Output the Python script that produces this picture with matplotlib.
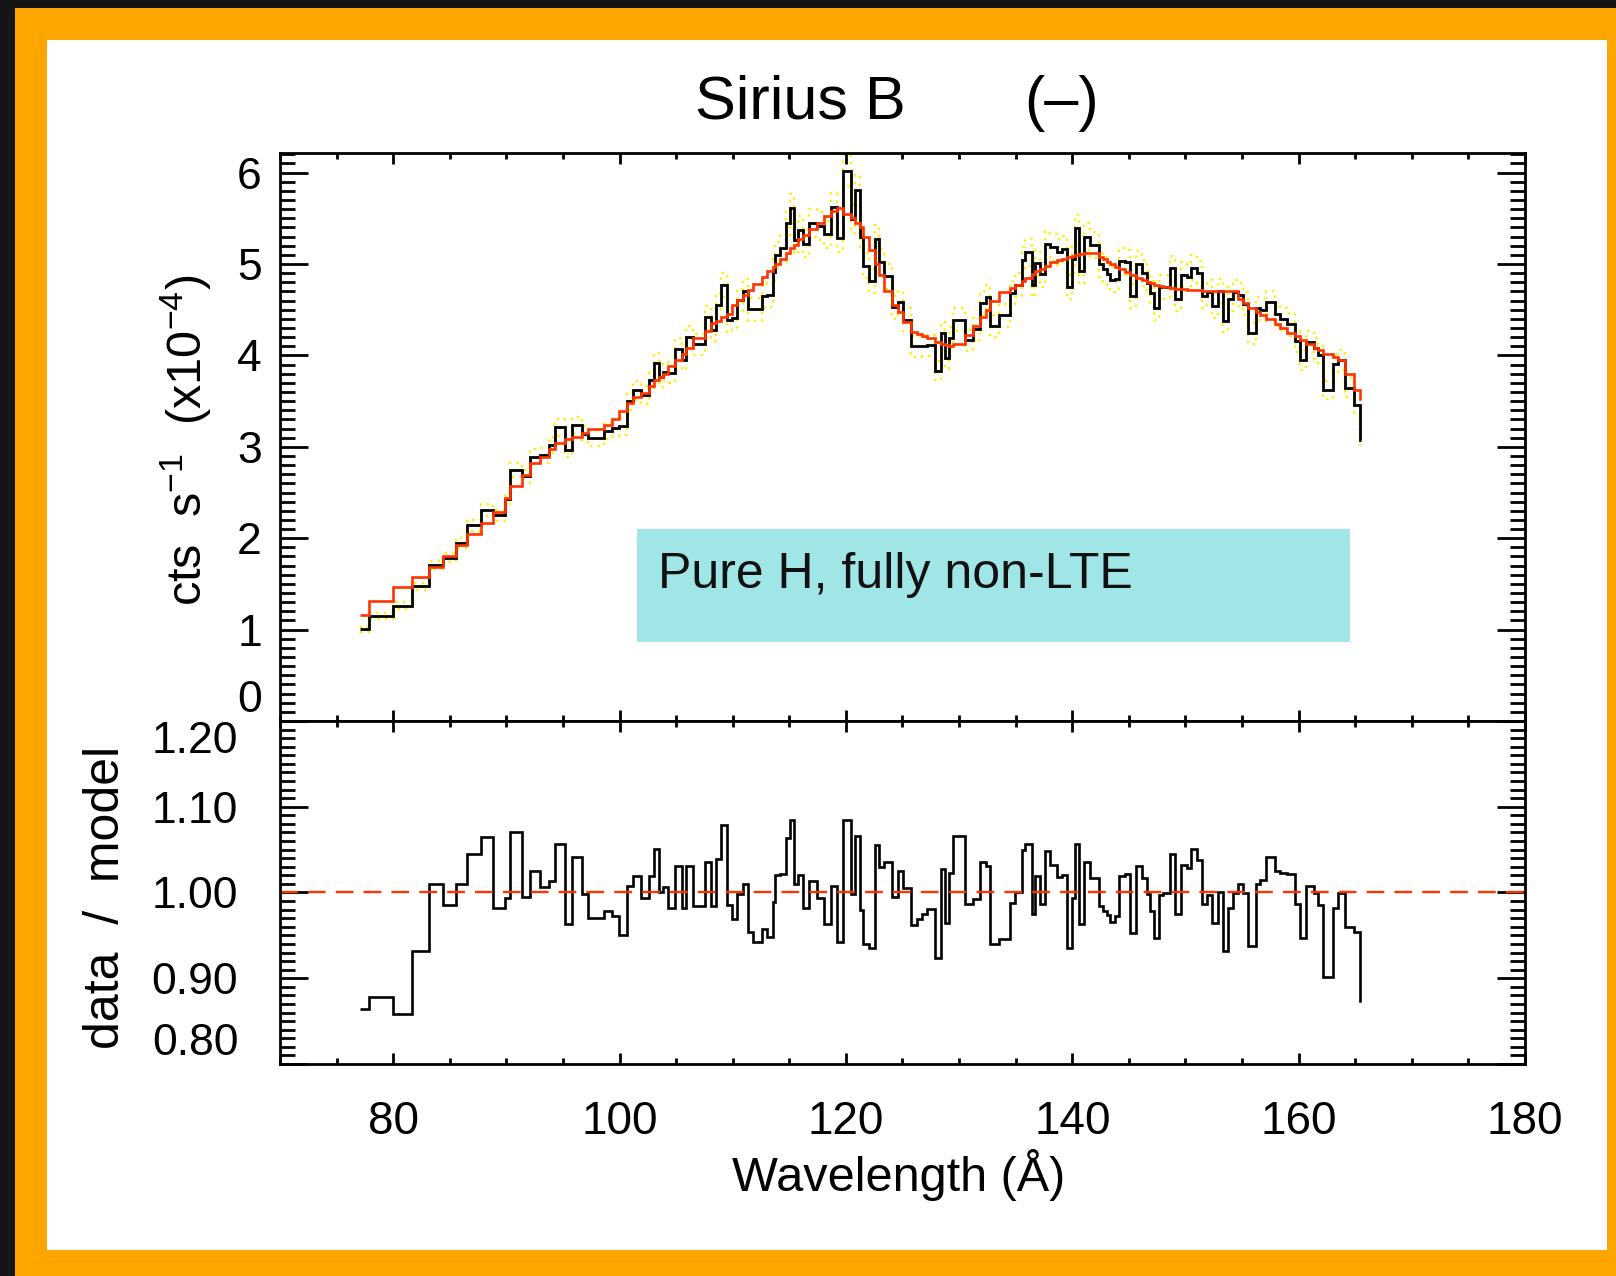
import matplotlib
matplotlib.use('Agg')
import matplotlib.pyplot as plt
from matplotlib.patches import Rectangle
from matplotlib.ticker import MultipleLocator, FixedLocator, FormatStrFormatter
import numpy as np

plt.rcParams['font.family'] = ['Liberation Sans', 'DejaVu Sans']
plt.rcParams['mathtext.fontset'] = 'custom'
plt.rcParams['mathtext.rm'] = 'Liberation Sans'
plt.rcParams['mathtext.it'] = 'Liberation Sans:italic'
plt.rcParams['mathtext.bf'] = 'Liberation Sans:bold'

# ---------------- data ----------------
# bin edges in Angstrom
edges = [77.07, 77.89, 79.96, 81.63, 83.20, 84.37, 85.55, 86.55, 87.73, 88.79,
         89.88, 90.32, 91.35, 92.09, 92.97, 93.80, 94.30, 95.18, 95.77, 96.66,
         97.24, 98.63, 99.31, 99.98, 100.63, 101.22, 101.87, 102.64, 103.05, 103.45,
         103.81, 104.31, 104.90, 105.50, 105.90, 106.46, 107.55, 108.05, 108.52, 108.93,
         109.46, 109.91, 110.41, 110.88, 111.38, 111.82, 112.56, 113.06, 113.53, 113.73,
         114.18, 114.71, 115.06, 115.41, 115.80, 116.24, 116.77, 117.42, 118.06, 118.65,
         119.18, 119.71, 120.42, 120.80, 121.25, 121.54, 122.07, 122.57, 122.95, 123.37,
         124.04, 124.63, 125.02, 125.72, 126.25, 126.70, 127.20, 127.87, 128.37, 128.76,
         129.14, 129.49, 130.52, 131.26, 131.85, 132.38, 132.73, 133.56, 134.50, 134.94,
         135.53, 135.83, 136.41, 136.71, 137.15, 137.59, 138.03, 138.62, 139.07, 139.51,
         139.95, 140.24, 140.63, 141.04, 141.57, 142.39, 142.75, 143.10, 143.34, 143.78,
         144.16, 144.66, 145.10, 145.63, 146.13, 146.58, 146.87, 147.22, 147.70, 148.05,
         148.64, 149.08, 149.58, 150.11, 150.46, 150.99, 151.44, 151.88, 152.32, 152.91,
         153.29, 153.79, 154.18, 154.68, 155.12, 155.56, 156.24, 156.59, 157.12, 157.92,
         158.36, 158.95, 159.68, 160.13, 160.66, 161.36, 161.75, 162.19, 163.07, 163.51,
         164.10, 164.90, 165.40, 165.55]

# data / model ratio per bin
ratio = [0.864, 0.878, 0.858, 0.932, 1.010, 0.986, 1.010, 1.045, 1.065, 0.982,
         0.994, 1.070, 0.995, 1.025, 1.006, 1.013, 1.057, 0.963, 1.041, 0.998,
         0.970, 0.979, 0.973, 0.951, 1.007, 1.019, 0.994, 1.019, 1.051, 1.000,
         1.006, 0.982, 1.031, 0.982, 1.031, 0.984, 1.035, 0.984, 1.039, 1.079,
         0.985, 0.969, 0.998, 1.010, 0.954, 0.942, 0.957, 0.948, 0.989, 1.020,
         1.022, 1.064, 1.085, 1.010, 1.020, 0.982, 1.013, 0.994, 0.963, 1.007,
         0.942, 1.085, 0.998, 1.066, 0.980, 0.940, 0.935, 1.055, 1.030, 1.035,
         0.995, 1.025, 1.005, 0.962, 0.969, 0.975, 0.981, 0.924, 1.027, 0.965,
         1.023, 1.066, 0.987, 0.993, 1.035, 1.031, 0.940, 0.946, 0.988, 1.000,
         1.049, 1.057, 0.975, 1.019, 0.987, 1.048, 1.032, 1.018, 1.020, 0.935,
         0.994, 1.057, 0.963, 1.035, 1.017, 0.984, 0.979, 0.974, 0.966, 0.973,
         1.019, 1.022, 0.953, 1.031, 1.017, 0.998, 0.978, 0.947, 0.997, 0.999,
         1.045, 0.975, 1.032, 1.029, 1.051, 1.038, 0.987, 0.997, 0.964, 1.000,
         0.932, 0.982, 0.999, 1.010, 0.999, 0.938, 1.010, 1.014, 1.041, 1.025,
         1.023, 1.021, 0.987, 0.947, 1.007, 0.999, 0.986, 0.901, 0.982, 0.999,
         0.960, 0.954, 0.873]

# model count rate per bin (x1e-4 cts/s)
model = [1.16, 1.31, 1.47, 1.58, 1.69, 1.81, 1.93, 2.05, 2.17, 2.29,
         2.44, 2.57, 2.69, 2.82, 2.89, 2.98, 3.04, 3.08, 3.11, 3.15,
         3.19, 3.24, 3.30, 3.39, 3.48, 3.55, 3.59, 3.66, 3.73, 3.76,
         3.80, 3.88, 3.95, 4.02, 4.08, 4.19, 4.27, 4.35, 4.38, 4.42,
         4.45, 4.55, 4.61, 4.66, 4.72, 4.78, 4.86, 4.92, 4.97, 5.00,
         5.06, 5.12, 5.17, 5.21, 5.27, 5.32, 5.38, 5.45, 5.53, 5.58,
         5.61, 5.55, 5.50, 5.45, 5.40, 5.30, 5.15, 5.00, 4.88, 4.70,
         4.55, 4.47, 4.37, 4.26, 4.23, 4.21, 4.19, 4.15, 4.13, 4.11,
         4.10, 4.12, 4.22, 4.32, 4.42, 4.50, 4.60, 4.69, 4.74, 4.77,
         4.81, 4.85, 4.89, 4.92, 4.95, 4.98, 5.02, 5.04, 5.06, 5.08,
         5.09, 5.10, 5.11, 5.12, 5.12, 5.08, 5.05, 5.02, 5.00, 4.97,
         4.94, 4.91, 4.88, 4.85, 4.82, 4.80, 4.79, 4.77, 4.76, 4.75,
         4.74, 4.73, 4.73, 4.72, 4.72, 4.72, 4.71, 4.71, 4.71, 4.70,
         4.70, 4.70, 4.70, 4.62, 4.57, 4.52, 4.47, 4.44, 4.40, 4.34,
         4.30, 4.25, 4.21, 4.17, 4.12, 4.08, 4.06, 4.02, 3.98, 3.95,
         3.80, 3.62, 3.52]

err_frac = 0.028          # approximate 1-sigma fractional error (yellow dotted)

x_ticks = [80, 100, 120, 140, 160, 180]
y_ticks_top = [0, 1, 2, 3, 4, 5, 6]
y_ticks_bot = [0.80, 0.90, 1.00, 1.10, 1.20]

title_left = "Sirius B"
title_right = "(\u2013)"
ylabel_top = r"cts  s$^{-1}$  (x10$^{-4}$)"
ylabel_bot = "data  /  model"
xlabel = "Wavelength (\u00c5)"
box_text = "Pure H, fully non-LTE"

# ---------------- figure ----------------
W, H = 1616, 1276
fig = plt.figure(figsize=(W / 100, H / 100), dpi=100, facecolor='#151515')


def fx(px):
    return px / W


def fy(py):
    return 1 - py / H


fig.add_artist(Rectangle((fx(15), 0), fx(W - 15), fy(8), transform=fig.transFigure,
                         facecolor='#FFA500', edgecolor='none', zorder=-3))
fig.add_artist(Rectangle((fx(47), fy(1250)), fx(1607 - 47), (1250 - 40) / H,
                         transform=fig.transFigure, facecolor='white',
                         edgecolor='none', zorder=-2))

left, right = 280, 1525
top1, mid, bot2 = 152.5, 721, 1064
ax1 = fig.add_axes([fx(left), fy(mid), fx(right - left), (mid - top1) / H])
ax2 = fig.add_axes([fx(left), fy(bot2), fx(right - left), (bot2 - mid) / H])

edges_a = np.array(edges)
model_a = np.array(model)
ratio_a = np.array(ratio)
data_a = model_a * ratio_a

red = '#ff3300'

# upper panel
ax1.stairs(data_a * (1 + err_frac), edges_a, baseline=None, color='#ffee00',
           ls=(0, (1, 2.2)), lw=1.7)
ax1.stairs(data_a * (1 - err_frac), edges_a, baseline=None, color='#ffee00',
           ls=(0, (1, 2.2)), lw=1.7)
ax1.stairs(data_a, edges_a, baseline=None, color='black', lw=2.0)
ax1.stairs(model_a, edges_a, baseline=None, color=red, lw=1.9)
ax1.set_xlim(70, 180)
ax1.set_ylim(0, 6.22)

# lower panel
ax2.stairs(ratio_a, edges_a, baseline=None, color='black', lw=1.9)
ax2.axhline(1.0, color=red, lw=1.7, dashes=(7.5, 4.3))
ax2.set_xlim(70, 180)
ax2.set_ylim(0.80, 1.20)

for ax in (ax1, ax2):
    for s in ax.spines.values():
        s.set_linewidth(2)
    ax.tick_params(axis='both', which='both', direction='in', top=True, right=True,
                   width=2, colors='black')
    ax.tick_params(axis='y', which='major', length=20)
    ax.tick_params(axis='y', which='minor', length=11)
    ax.tick_params(axis='x', which='major', length=8)
    ax.tick_params(axis='x', which='minor', length=4)
    ax.xaxis.set_major_locator(FixedLocator(x_ticks))
    ax.xaxis.set_minor_locator(MultipleLocator(5))

ax1.yaxis.set_major_locator(FixedLocator(y_ticks_top))
ax1.yaxis.set_minor_locator(MultipleLocator(0.1))
ax1.tick_params(axis='x', labelbottom=False)
ax1.tick_params(axis='y', labelsize=32, pad=13)

ax2.yaxis.set_major_locator(FixedLocator(y_ticks_bot))
ax2.yaxis.set_major_formatter(FormatStrFormatter('%.2f'))
ax2.yaxis.set_minor_locator(MultipleLocator(0.01))
ax2.tick_params(axis='y', labelsize=32, pad=30)
ax2.tick_params(axis='x', labelsize=33, pad=26)

# IDL-style shifted extreme labels
t1 = ax1.yaxis.get_major_ticks()
t1[0].label1.set_va('bottom')
t2 = ax2.yaxis.get_major_ticks()
t2[0].label1.set_va('bottom')
t2[-1].label1.set_va('top')

# texts
fig.text(fx(800), fy(103), title_left, ha='center', va='center', fontsize=44)
fig.text(fx(1062), fy(103), title_right, ha='center', va='center', fontsize=44)
fig.text(fx(186), fy(440), ylabel_top, ha='center', va='center', rotation=90, fontsize=35)
fig.text(fx(106), fy(897), ylabel_bot, ha='center', va='center', rotation=90, fontsize=36)
fig.text(fx(899), fy(1175), xlabel, ha='center', va='center', fontsize=35)

fig.add_artist(Rectangle((fx(637), fy(642)), fx(1350 - 637), (642 - 529) / H,
                         transform=fig.transFigure, facecolor='#a0e6e6',
                         edgecolor='none', zorder=5))
fig.text(fx(658), fy(575), box_text, ha='left', va='center', fontsize=36,
         color='#111111', zorder=6)

fig.savefig('out.png', dpi=100, facecolor=fig.get_facecolor())
